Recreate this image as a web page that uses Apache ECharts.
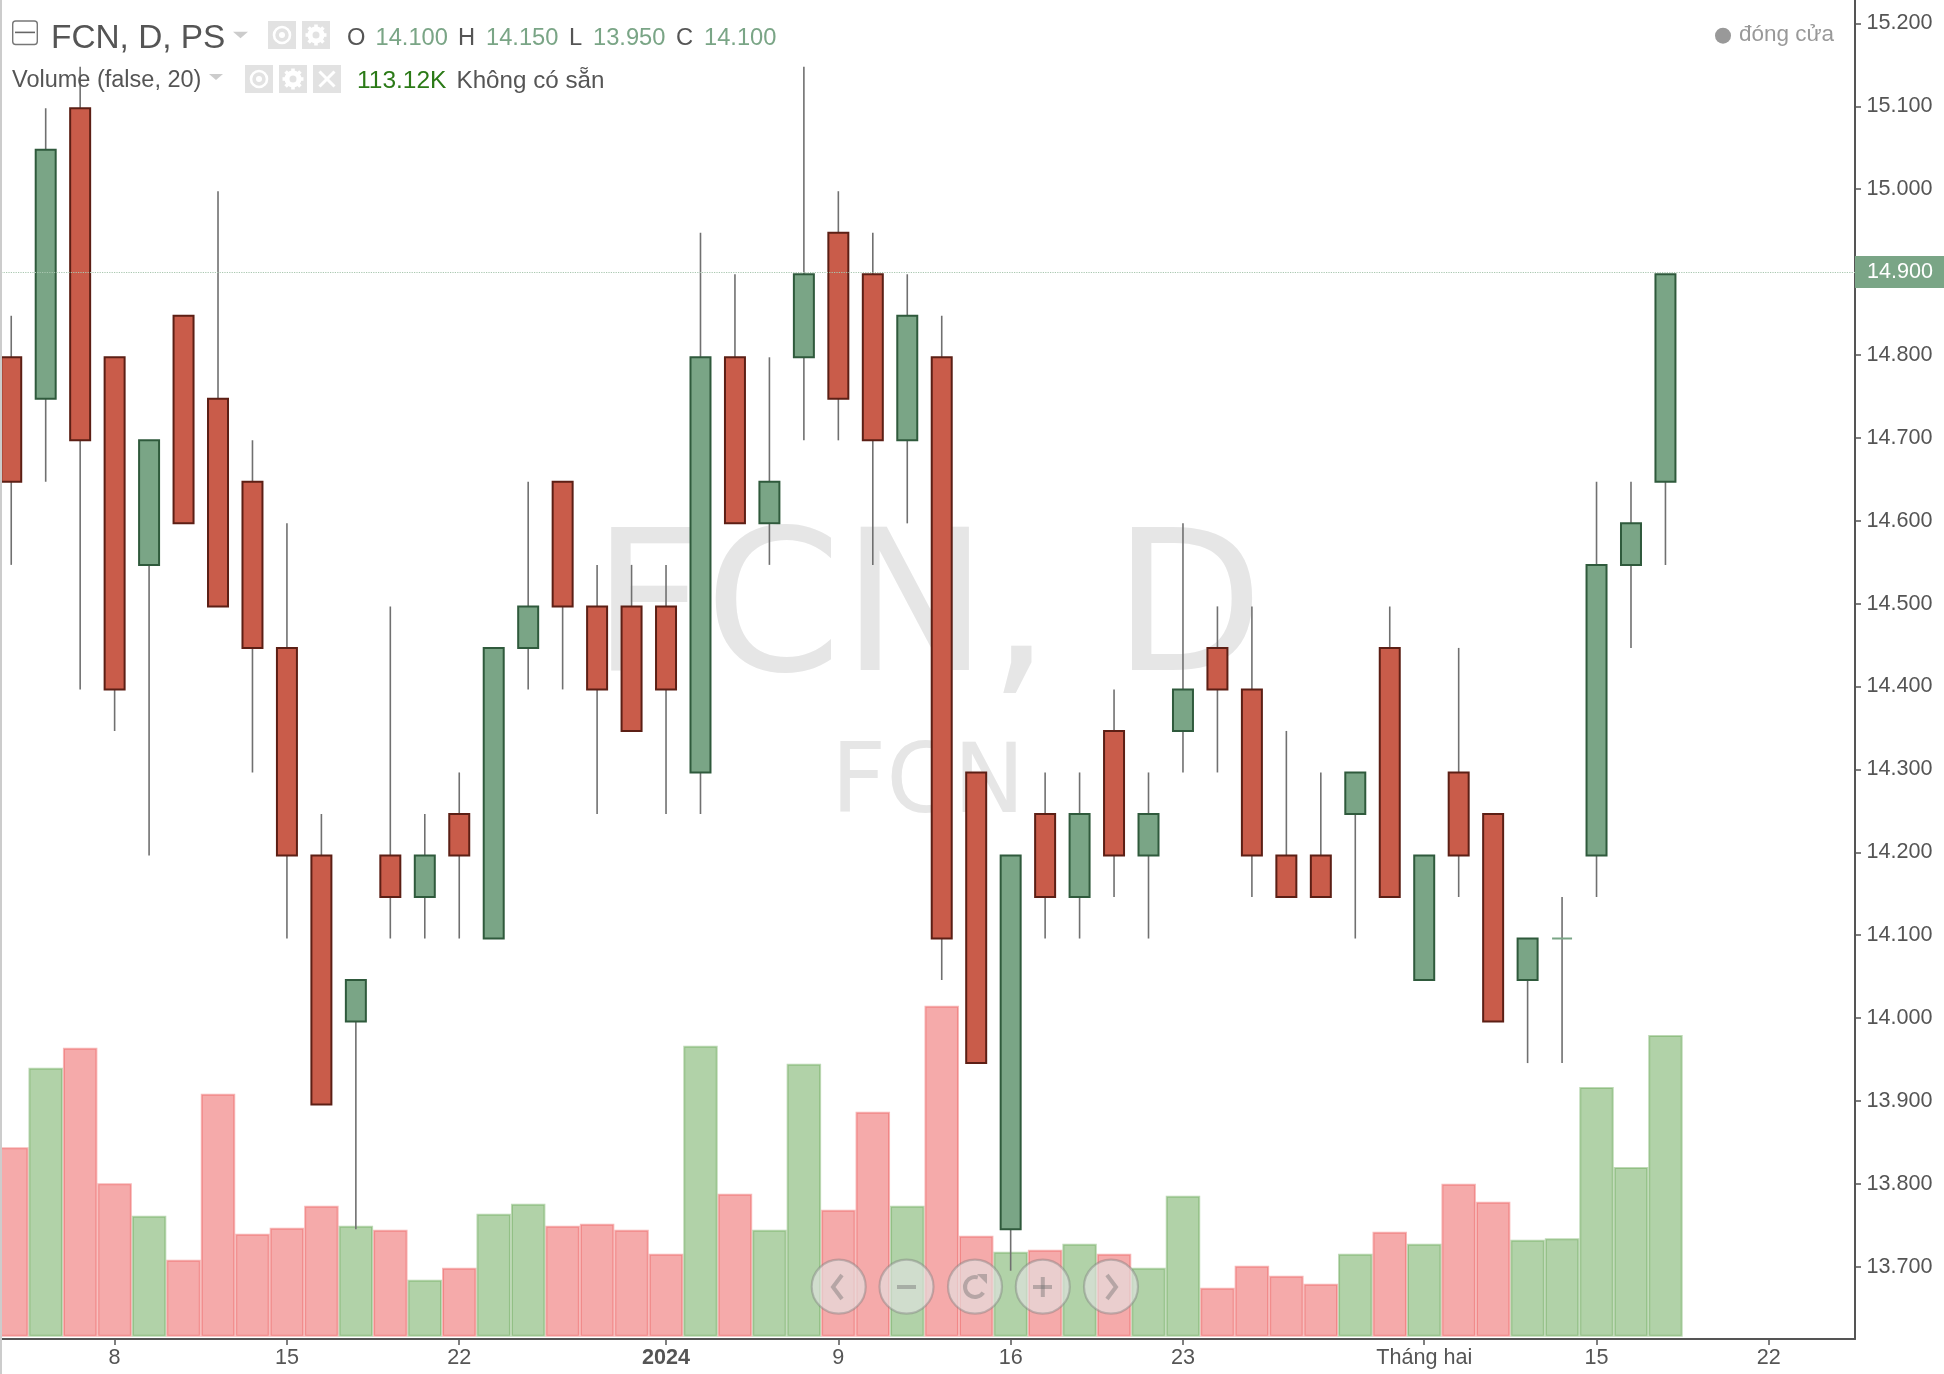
<!DOCTYPE html>
<html><head><meta charset="utf-8">
<style>html,body{margin:0;padding:0;background:#fff}#c{width:1944px;height:1374px}</style>
<script src="https://cdn.jsdelivr.net/npm/echarts@6/dist/echarts.min.js"></script>
</head><body><div id="c"></div>
<script>
const categories = ['2023-12-05','2023-12-06','2023-12-07','2023-12-08','2023-12-11','2023-12-12','2023-12-13','2023-12-14','2023-12-15','2023-12-18','2023-12-19','2023-12-20','2023-12-21','2023-12-22','2023-12-25','2023-12-26','2023-12-27','2023-12-28','2023-12-29','2024-01-02','2024-01-03','2024-01-04','2024-01-05','2024-01-08','2024-01-09','2024-01-10','2024-01-11','2024-01-12','2024-01-15','2024-01-16','2024-01-17','2024-01-18','2024-01-19','2024-01-22','2024-01-23','2024-01-24','2024-01-25','2024-01-26','2024-01-29','2024-01-30','2024-01-31','2024-02-01','2024-02-02','2024-02-05','2024-02-06','2024-02-07','2024-02-15','2024-02-16','2024-02-19','2024-02-20','2024-02-21','2024-02-22','2024-02-23','2024-02-26'];
const opens  = [14.80,14.75,15.10,14.80,14.55,14.85,14.75,14.65,14.45,14.20,14.00,14.20,14.15,14.25,14.10,14.45,14.65,14.50,14.50,14.50,14.30,14.80,14.60,14.80,14.95,14.90,14.70,14.80,14.30,13.75,14.25,14.15,14.35,14.20,14.35,14.45,14.40,14.20,14.20,14.25,14.45,14.05,14.30,14.25,14.05,14.10,14.20,14.55,14.65];
const closes = [14.65,15.05,14.70,14.40,14.70,14.60,14.50,14.45,14.20,13.90,14.05,14.15,14.20,14.20,14.45,14.50,14.50,14.40,14.35,14.40,14.80,14.60,14.65,14.90,14.75,14.70,14.85,14.10,13.95,14.20,14.15,14.25,14.20,14.25,14.40,14.40,14.20,14.15,14.15,14.30,14.15,14.20,14.20,14.00,14.10,14.10,14.55,14.60,14.90];
const highs  = [14.85,15.10,15.15,14.80,14.70,14.85,15.00,14.70,14.60,14.25,14.05,14.50,14.25,14.30,14.45,14.65,14.65,14.55,14.55,14.55,14.95,14.90,14.80,15.15,15.00,14.95,14.90,14.85,14.30,14.20,14.30,14.30,14.40,14.30,14.60,14.50,14.50,14.35,14.30,14.30,14.50,14.20,14.45,14.25,14.10,14.15,14.65,14.65,14.90];
const lows   = [14.55,14.65,14.40,14.35,14.20,14.60,14.50,14.30,14.10,13.90,13.75,14.10,14.10,14.10,14.10,14.40,14.40,14.25,14.35,14.25,14.25,14.60,14.55,14.70,14.70,14.55,14.60,14.05,13.95,13.70,14.10,14.10,14.15,14.10,14.30,14.30,14.15,14.15,14.15,14.10,14.15,14.05,14.15,14.00,13.95,13.95,14.15,14.45,14.55];
const volumesK = [217.8,309.4,332.4,176.4,139.2,88.6,279.5,118.5,125.4,150.7,127.7,123.1,65.6,79.4,141.5,153,127.7,130,123.1,95.5,334.7,164.5,123.1,314,146,258.8,150.7,380.7,116.2,97.8,100,107,95.5,79.4,162.2,56.4,81.7,70.2,61,95.5,120.8,107,176,155.3,111.6,113.12,287.2,195.2,347];
const yTicks = [13.7,13.8,13.9,14.0,14.1,14.2,14.3,14.4,14.5,14.6,14.7,14.8,14.9,15.0,15.1,15.2];
const xTickDates = ['2023-12-08','2023-12-15','2023-12-22','2024-01-02','2024-01-09','2024-01-16','2024-01-23','2024-02-01','2024-02-15','2024-02-22'];
const xTickLabels = ['8','15','22','2024','9','16','23','Tháng hai','15','22'];
const ohlcLabels = ['O','H','L','C'];
const ohlcValues = ['14.100','14.150','13.950','14.100'];
const lastClose = closes[closes.length-1];

const FONT = '"Liberation Sans", Arial, sans-serif';
const TXT = '#555555', GV = '#7AA586';
const chart = echarts.init(document.getElementById('c'), null, {renderer:'canvas', width:1944, height:1374});

function label(x,y,text,size,color,extra){
  return {type:'text', z:100, silent:true, x:x, y:y, style:Object.assign({text:text, font:size+'px '+FONT, fill:color, textVerticalAlign:'middle', textAlign:'left'},extra||{})};
}
function iconBg(x,y,w,h){return {type:'rect',z:99,silent:true,shape:{x:x,y:y,width:w,height:h},style:{fill:'#E2E2E2'}};}
function eye(cx,cy){return [
  {type:'circle',z:100,silent:true,shape:{cx:cx,cy:cy,r:8},style:{fill:'none',stroke:'#fff',lineWidth:2.6}},
  {type:'circle',z:100,silent:true,shape:{cx:cx,cy:cy,r:3},style:{fill:'#fff'}}];}
function gear(cx,cy){
  const parts=[{type:'circle',z:100,silent:true,shape:{cx:cx,cy:cy,r:6},style:{fill:'none',stroke:'#fff',lineWidth:5}}];
  for(let k=0;k<8;k++){
    const a=k*Math.PI/4;
    parts.push({type:'line',z:100,silent:true,shape:{x1:cx+6*Math.cos(a),y1:cy+6*Math.sin(a),x2:cx+10.5*Math.cos(a),y2:cy+10.5*Math.sin(a)},style:{stroke:'#fff',lineWidth:3.6}});
  }
  return parts;
}
function tri(x0,x1,y0,y1){return {type:'polygon',z:100,silent:true,shape:{points:[[x0,y0],[x1,y0],[(x0+x1)/2,y1]]},style:{fill:'#CCCCCC'}};}

const navIcon = 'rgba(110,110,110,0.42)';
function navBtn(cx){return {type:'circle',z:110,silent:true,shape:{cx:cx,cy:1286.7,r:27},style:{fill:'rgba(228,228,228,0.62)',stroke:'rgba(120,120,120,0.4)',lineWidth:2.2}};}
function navLine(pts){return {type:'polyline',z:111,silent:true,shape:{points:pts},style:{fill:'none',stroke:navIcon,lineWidth:4}};}

const ohlcX = [[347,375.5],[458,486],[569,593],[676,704]];
const graphics = [
  {type:'text',z:-10,silent:true,x:592,y:619,style:{text:'FCN, D',font:'196px "DejaVu Sans"',fill:'#E6E6E6',textAlign:'left',textVerticalAlign:'middle'}},
  {type:'text',z:-10,silent:true,x:831,y:787,style:{text:'FCN',font:'96px "DejaVu Sans"',fill:'#E6E6E6',textAlign:'left',textVerticalAlign:'middle'}},
  {type:'rect',z:120,silent:true,shape:{x:0,y:0,width:2,height:1374},style:{fill:'#CCCCCC'}},
  // header row 1
  {type:'rect',z:100,silent:true,shape:{x:12.7,y:21,width:24.6,height:23.5,r:3},style:{fill:'none',stroke:'#777',lineWidth:1.4}},
  {type:'rect',z:100,silent:true,shape:{x:15,y:31.6,width:20,height:1.6},style:{fill:'#666'}},
  label(51,38.5,'FCN, D, PS',33.4,TXT),
  tri(233,248,31.7,38.3),
  iconBg(268,21,28,28), iconBg(302,21,28,28),
  ...eye(282,35), ...gear(316,35),
  // header row 2
  label(12,80.5,'Volume (false, 20)',23.5,TXT),
  tri(209,223,74,80),
  iconBg(245,65,28,28), iconBg(279,65,28,28), iconBg(313,65,28,28),
  ...eye(259,79), ...gear(293,79),
  {type:'line',z:100,silent:true,shape:{x1:319.5,y1:71.5,x2:334.5,y2:86.5},style:{stroke:'#fff',lineWidth:3}},
  {type:'line',z:100,silent:true,shape:{x1:334.5,y1:71.5,x2:319.5,y2:86.5},style:{stroke:'#fff',lineWidth:3}},
  label(357,81,(volumesK[45]).toFixed(2)+'K',24.5,'#2B7A17'),
  label(456.5,81,'Không có sẵn',24.2,TXT),
  // legend
  {type:'circle',z:100,silent:true,shape:{cx:1723,cy:35.7,r:8},style:{fill:'#999'}},
  label(1739,35,'đóng cửa',22.5,'#999999'),
  // nav buttons
  navBtn(838.7),navBtn(906.5),navBtn(975),navBtn(1042.8),navBtn(1111),
  navLine([[842,1275],[833,1287],[842,1299]]),
  navLine([[897,1287],[916,1287]]),
  {type:'arc',z:111,silent:true,shape:{cx:975,cy:1287,r:10,startAngle:0.6,endAngle:5.0},style:{fill:'none',stroke:navIcon,lineWidth:4}},
  {type:'polygon',z:111,silent:true,shape:{points:[[977,1274],[987,1274],[987,1284]]},style:{fill:navIcon}},
  navLine([[1033,1287],[1052,1287]]), navLine([[1042.8,1277],[1042.8,1297]]),
  navLine([[1107,1275],[1116,1287],[1107,1299]])
];
ohlcX.forEach((p,i)=>{
  graphics.push(label(p[0],38,ohlcLabels[i],23.7,TXT));
  graphics.push(label(p[1],38,ohlcValues[i],23.7,GV));
});

const candleData = opens.map((o,i)=>[i,o,closes[i],lows[i],highs[i]]);
const isUp = i => closes[i] >= opens[i];
const UPF='#7AA586',UPB='#2F5A3C',DNF='#C95C4A',DNB='#5C1F15';

chart.setOption({
  animation:false,
  backgroundColor:'#fff',
  textStyle:{fontFamily:FONT},
  graphic:{elements:graphics},
  grid:[
    {left:-6,right:89,top:0,bottom:35,containLabel:false,outerBoundsMode:'none'},
    {left:-6,right:89,top:0,height:1336.7,containLabel:false,outerBoundsMode:'none'}
  ],
  xAxis:[
    {type:'category',gridIndex:0,data:categories,boundaryGap:true,
     axisLine:{show:true,lineStyle:{color:'#555',width:2}},
     axisTick:{show:true,alignWithLabel:true,length:6,lineStyle:{color:'#555',width:1.5},interval:(i,v)=>xTickDates.includes(v)},
     axisLabel:{show:true,color:TXT,fontSize:21.6,fontFamily:FONT,margin:8,hideOverlap:false,
       interval:(i,v)=>xTickDates.includes(v),
       formatter:v=>{const k=xTickDates.indexOf(v);const t=xTickLabels[k];return t==='2024'?'{b|2024}':t;},
       rich:{b:{fontWeight:'bold',fontSize:21.6,color:TXT,fontFamily:FONT}}},
     splitLine:{show:false}},
    {type:'category',gridIndex:1,data:categories,boundaryGap:true,show:false}
  ],
  yAxis:[
    {type:'value',gridIndex:0,position:'right',min:13.6128,max:15.2283,
     axisLine:{show:true,lineStyle:{color:'#555',width:2}},
     axisTick:{show:true,length:6,lineStyle:{color:'#555',width:1.5},customValues:yTicks},
     axisLabel:{show:true,color:TXT,fontSize:21.6,fontFamily:FONT,margin:11.5,customValues:yTicks,formatter:v=>v.toFixed(3)},
     splitLine:{show:false}},
    {type:'value',gridIndex:1,min:0,max:1537.2,show:false,splitLine:{show:false}},
    {type:'value',gridIndex:0,position:'right',min:13.6177,max:15.2303,show:false,splitLine:{show:false}}
  ],
  series:[
    {type:'bar',name:'Volume',xAxisIndex:1,yAxisIndex:1,barWidth:'100%',barGap:0,z:2,silent:true,
     data:volumesK.map((v,i)=>({value:v,itemStyle:isUp(i)
       ?{color:'rgba(99,165,81,0.5)',borderColor:'rgba(99,165,81,0.42)',borderWidth:2}
       :{color:'rgba(235,85,85,0.5)',borderColor:'rgba(235,85,85,0.42)',borderWidth:2}}))},
    {type:'custom',name:'FCN',xAxisIndex:0,yAxisIndex:2,z:3,silent:true,
     encode:{x:0,y:[1,2,3,4]},
     data:candleData,
     renderItem:(params,api)=>{
       const i=api.value(0),o=api.value(1),c=api.value(2),l=api.value(3),h=api.value(4);
       const pH=api.coord([i,h]),pL=api.coord([i,l]),pO=api.coord([i,o]),pC=api.coord([i,c]);
       const w=api.size([1,0])[0]*0.58;
       const up=c>=o;
       const x=pH[0];
       return {type:'group',children:[
         {type:'line',shape:{x1:x,y1:pH[1],x2:x,y2:pL[1]},style:{stroke:'#707070',lineWidth:1.6}},
         {type:'rect',shape:{x:x-w/2,y:Math.min(pO[1],pC[1]),width:w,height:Math.abs(pO[1]-pC[1])},
          style:{fill:up?UPF:DNF,stroke:o===c?UPF:(up?UPB:DNB),lineWidth:2}}
       ]};
     }
    },
    {type:'line',name:'Last',xAxisIndex:0,yAxisIndex:0,z:3,silent:true,data:[],
     markLine:{silent:true,symbol:'none',animation:false,
       data:[{yAxis:lastClose}],
       lineStyle:{color:'#A9C7B0',type:'dotted',width:1.2},
       label:{show:true,position:'end',distance:0,formatter:()=>lastClose.toFixed(3),
         color:'#fff',backgroundColor:GV,fontSize:21.6,fontFamily:FONT,
         padding:[5,11,5,12]}}
    }
  ]
});
</script></body></html>
